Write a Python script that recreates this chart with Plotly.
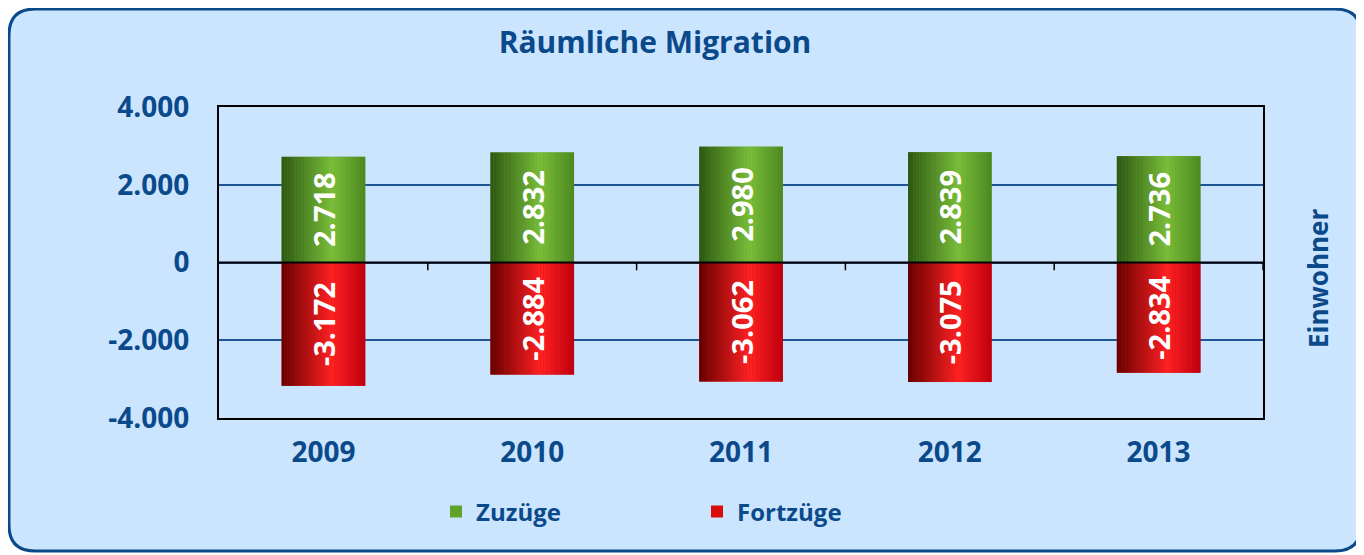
import plotly.graph_objects as go

years = ["2009", "2010", "2011", "2012", "2013"]
zuzuege = [2718, 2832, 2980, 2839, 2736]
fortzuege = [-3172, -2884, -3062, -3075, -2834]
y_ticks = [-4000, -2000, 0, 2000, 4000]
y_tick_labels = ["-4.000", "-2.000", "0", "2.000", "4.000"]

# the page body has an 8px margin, so the figure is drawn 8px smaller and
# every pixel position below is given in page coordinates minus OFF
OFF = 8
W, H = 1364 - OFF, 555 - OFF
L, R, T, B = 219 - OFF, 101, 107 - OFF, 137
PW, PH = W - L - R, H - T - B

BLUE = "#0B4A8A"
FONT = "Open Sans"
BAR_W = 0.4
N_SLICES = 30

green_stops = [(0.0, (44, 86, 18)), (0.6, (122, 190, 58)), (1.0, (76, 136, 32))]
red_stops = [(0.0, (100, 0, 0)), (0.6, (255, 34, 36)), (1.0, (190, 0, 14))]


def fmt(v):
    return f"{v:,}".replace(",", ".")


def grad(stops, t):
    for (t0, c0), (t1, c1) in zip(stops, stops[1:]):
        if t <= t1:
            f = (t - t0) / (t1 - t0)
            c = [round(a + (b - a) * f) for a, b in zip(c0, c1)]
            return "rgb(%d,%d,%d)" % tuple(c)
    return "rgb(%d,%d,%d)" % stops[-1][1]


# page pixel -> paper coords
def pxx(x):
    return (x - OFF - L) / PW


def pxy(y):
    return (H - B - (y - OFF)) / PH


xs = list(range(len(years)))
fig = go.Figure()

for name, vals, solid, stops in [
    ("Zuzüge", zuzuege, "#5FA22A", green_stops),
    ("Fortzüge", fortzuege, "#D90A0A", red_stops),
]:
    # solid base bar (also gives the legend swatch)
    fig.add_trace(go.Bar(x=xs, y=vals, name=name, width=BAR_W,
                         marker=dict(color=solid, line=dict(width=0)),
                         hoverinfo="skip"))
    # horizontal gradient made of thin slices
    sw = BAR_W / N_SLICES
    for i in range(N_SLICES):
        t = (i + 0.5) / N_SLICES
        fig.add_trace(go.Bar(x=xs, y=vals, width=sw * 1.05, offset=-BAR_W / 2 + i * sw,
                             marker=dict(color=grad(stops, t), line=dict(width=0)),
                             showlegend=False, hoverinfo="skip"))
    # labels on top
    fig.add_trace(go.Bar(x=xs, y=vals, width=BAR_W, text=[fmt(v) for v in vals],
                         textposition="inside", insidetextanchor="middle", textangle=-90,
                         textfont=dict(family=FONT, size=29, color="white", weight="bold"),
                         marker=dict(color="rgba(0,0,0,0)", line=dict(width=0)),
                         showlegend=False, hoverinfo="skip"))

# rounded light-blue box behind everything
x0, y0, x1, y1, r = OFF + 1, OFF + 1, 1361, 551, 26
pts = lambda x, y: f"{pxx(x):.5f},{pxy(y):.5f}"
path = (f"M {pts(x0 + r, y0)} L {pts(x1 - r, y0)} Q {pts(x1, y0)} {pts(x1, y0 + r)} "
        f"L {pts(x1, y1 - r)} Q {pts(x1, y1)} {pts(x1 - r, y1)} "
        f"L {pts(x0 + r, y1)} Q {pts(x0, y1)} {pts(x0, y1 - r)} "
        f"L {pts(x0, y0 + r)} Q {pts(x0, y0)} {pts(x0 + r, y0)} Z")
fig.add_shape(type="path", path=path, xref="paper", yref="paper", layer="below",
              fillcolor="#CCE5FF", line=dict(color=BLUE, width=3))

# zero line over the bars plus the little category ticks below it
fig.add_shape(type="line", xref="paper", yref="y", x0=0, x1=1, y0=0, y1=0,
              line=dict(color="black", width=2), layer="above")
for i in range(len(years)):
    fig.add_shape(type="line", xref="x", yref="y", x0=i + 0.5, x1=i + 0.5, y0=0, y1=-200,
                  line=dict(color="black", width=1.5), layer="above")

fig.add_annotation(text="Einwohner", xref="paper", yref="paper", x=pxx(1318), y=pxy(278),
                   xanchor="center", yanchor="middle", textangle=-90, showarrow=False,
                   font=dict(family=FONT, size=26, color=BLUE, weight="bold"))

fig.update_layout(
    width=W, height=H,
    margin=dict(l=L, r=R, t=T, b=B),
    paper_bgcolor="white",
    plot_bgcolor="white",
    barmode="overlay",
    title=dict(text="Räumliche Migration", x=(655 - OFF) / W, xanchor="center",
               y=1 - (42 - OFF) / H, yanchor="middle",
               font=dict(family=FONT, size=30, color=BLUE, weight="bold")),
    legend=dict(orientation="h", x=pxx(436), xanchor="left", y=pxy(512), yanchor="middle",
                entrywidth=216, entrywidthmode="pixels", bgcolor="rgba(0,0,0,0)",
                font=dict(family=FONT, size=24, color=BLUE, weight="bold")),
    xaxis=dict(range=[-0.5, len(years) - 0.5], tickvals=xs, ticktext=years,
               showgrid=False, zeroline=False, showline=True, mirror=True,
               linecolor="black", linewidth=2, ticks="", ticklabelstandoff=8,
               tickfont=dict(family=FONT, size=28, color=BLUE, weight="bold")),
    yaxis=dict(range=[-4000, 4000], tickvals=y_ticks, ticktext=y_tick_labels,
               showgrid=True, gridcolor="#1F5592", gridwidth=2, zeroline=False,
               showline=True, mirror=True, linecolor="black", linewidth=2,
               ticks="", ticklabelstandoff=22,
               tickfont=dict(family=FONT, size=28, color=BLUE, weight="bold")),
)

fig.write_html("out.html")
